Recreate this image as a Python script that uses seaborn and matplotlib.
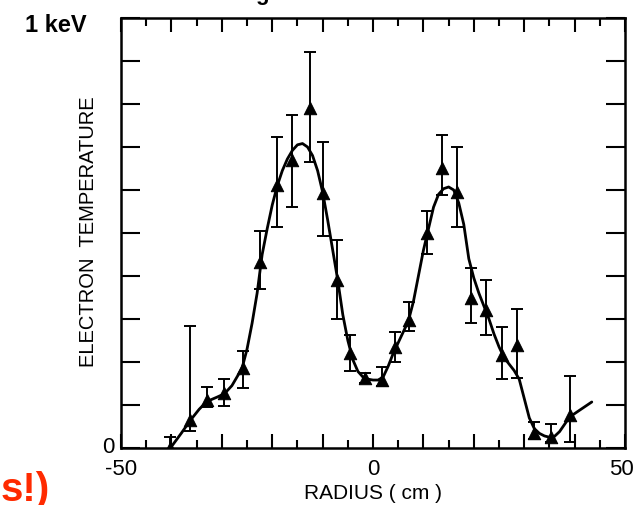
import matplotlib
matplotlib.use("Agg")
import matplotlib.pyplot as plt
import matplotlib.transforms as mtrans
import seaborn as sns
import numpy as np
import pandas as pd
from matplotlib.ticker import MultipleLocator

# measured points (radius in cm, electron temperature in keV)
radius = [-40.2, -36.4, -32.9, -29.5, -25.9, -22.4, -19.0, -16.0, -12.6, -9.9, -7.1,
          -4.6, -1.6, 1.7, 4.4, 7.1, 10.7, 13.7, 16.6, 19.4, 22.4, 25.5, 28.5, 31.9,
          35.4, 39.0]
temp = [0.0, 0.065, 0.112, 0.128, 0.186, 0.433, 0.612, 0.67, 0.79, 0.593, 0.39,
        0.22, 0.163, 0.158, 0.235, 0.298, 0.5, 0.651, 0.595, 0.349, 0.321, 0.216,
        0.24, 0.035, 0.026, 0.077]
err_hi = [0.026, 0.284, 0.142, 0.16, 0.226, 0.505, 0.723, 0.774, 0.92, 0.712, 0.484,
          0.263, 0.174, 0.188, 0.27, 0.34, 0.551, 0.728, 0.70, 0.419, 0.39, 0.281,
          0.323, 0.06, 0.056, 0.167]
err_lo = [-0.01, 0.04, 0.095, 0.098, 0.14, 0.37, 0.514, 0.56, 0.665, 0.493, 0.30,
          0.18, 0.151, 0.144, 0.20, 0.272, 0.451, 0.588, 0.514, 0.29, 0.263, 0.16,
          0.163, 0.02, 0.014, 0.014]

# smooth fit curve
fit_r = [-40.2, -38, -36.4, -34.5, -33, -31, -29.5, -28, -26, -25, -24, -23, -22, -21,
         -20, -19, -18, -17, -16, -15, -14, -13, -12, -11, -10, -9, -8, -7, -6, -5,
         -4, -3, -2, -1, 0, 1, 2, 3, 4, 5, 6, 7, 8, 9, 10, 11, 12, 13, 14, 15, 16,
         17, 18, 19, 20, 21, 22, 23, 24, 25, 26, 27, 28, 29, 30, 31, 32, 33, 34, 35,
         36, 37, 38, 39, 41, 43.4]
fit_t = [0.0, 0.035, 0.062, 0.09, 0.108, 0.118, 0.126, 0.145, 0.185, 0.23, 0.29, 0.36,
         0.45, 0.51, 0.565, 0.61, 0.645, 0.672, 0.692, 0.705, 0.708, 0.70, 0.68, 0.645,
         0.595, 0.53, 0.46, 0.39, 0.31, 0.25, 0.205, 0.178, 0.165, 0.16, 0.158, 0.158,
         0.165, 0.19, 0.22, 0.245, 0.27, 0.295, 0.34, 0.40, 0.46, 0.51, 0.56, 0.59,
         0.603, 0.607, 0.60, 0.57, 0.52, 0.44, 0.395, 0.36, 0.33, 0.30, 0.265, 0.235,
         0.21, 0.195, 0.18, 0.16, 0.115, 0.07, 0.045, 0.034, 0.028, 0.025, 0.027,
         0.038, 0.055, 0.072, 0.088, 0.107]

sns.set_style("ticks")
plt.rcParams['font.family'] = ['Liberation Sans', 'DejaVu Sans']
plt.rcParams['text.color'] = 'black'
plt.rcParams['axes.labelcolor'] = 'black'
plt.rcParams['xtick.color'] = 'black'
plt.rcParams['ytick.color'] = 'black'

fig = plt.figure(figsize=(6.34, 5.05), dpi=100)
ax = fig.add_axes([0.1909, 0.1129, 0.795, 0.8515])

pts = pd.DataFrame({'r': radius, 't': temp})
fit = pd.DataFrame({'r': fit_r, 't': fit_t})

sns.lineplot(data=fit, x='r', y='t', color='black', lw=2, sort=False, ax=ax)
t = np.array(temp)
ax.errorbar(radius, temp, yerr=[t - np.array(err_lo), np.array(err_hi) - t],
            fmt='none', ecolor='black', elinewidth=1.4, capsize=4, capthick=1.4)
sns.scatterplot(data=pts, x='r', y='t', marker='^', s=80, color='black',
                edgecolor='black', ax=ax, zorder=5)

ax.set_xlim(-50, 50)
ax.set_ylim(0, 1)
ax.xaxis.set_major_locator(MultipleLocator(10))
ax.xaxis.set_minor_locator(MultipleLocator(5))
ax.yaxis.set_major_locator(MultipleLocator(0.1))
ax.xaxis.set_major_formatter(
    lambda v, pos: {-50: '-50', 0: '0', 50: '50'}.get(int(round(v)), ''))
ax.yaxis.set_major_formatter(lambda v, pos: '0' if abs(v) < 1e-9 else '')
ax.tick_params(axis='both', which='both', direction='in', top=True, right=True,
               labelsize=16, width=1.5, color='black')
ax.tick_params(axis='x', which='major', length=10, pad=8)
ax.tick_params(axis='x', which='minor', length=6)
ax.tick_params(axis='y', which='major', length=14, pad=5)
for s in ax.spines.values():
    s.set_linewidth(1.8)
    s.set_color('black')

ax.set_xlabel('RADIUS ( cm )', fontsize=15)
ax.set_ylabel('ELECTRON  TEMPERATURE', fontsize=14.5)
ax.xaxis.set_label_coords(0.5, -0.083)
ax.yaxis.set_label_coords(-0.046, 0.503)

fig.text(56 / 634, 1 - 26 / 505, '1 keV', fontsize=17, fontweight='bold',
         ha='center', va='center')
fig.text(262 / 634, 1.0, 'g', fontsize=16, fontweight='bold', ha='center',
         va='baseline')
fig.text(50 / 634, 1 - 501 / 505, 's!)', fontsize=29, fontweight='bold',
         color='#ff2a00', ha='right', va='baseline')

fig.canvas.draw()
# keep the right-hand "50" inside the frame like the scan
for lab in ax.get_xticklabels():
    if lab.get_text() == '50':
        lab.set_transform(lab.get_transform() +
                          mtrans.ScaledTranslation(-4 / 100, 0, fig.dpi_scale_trans))
# lift the "0" on the temperature axis a little so it clears "-50"
for lab in ax.get_yticklabels():
    if lab.get_text() == '0':
        lab.set_transform(lab.get_transform() +
                          mtrans.ScaledTranslation(0, 3 / 100, fig.dpi_scale_trans))

fig.savefig('out.png', dpi=100)
